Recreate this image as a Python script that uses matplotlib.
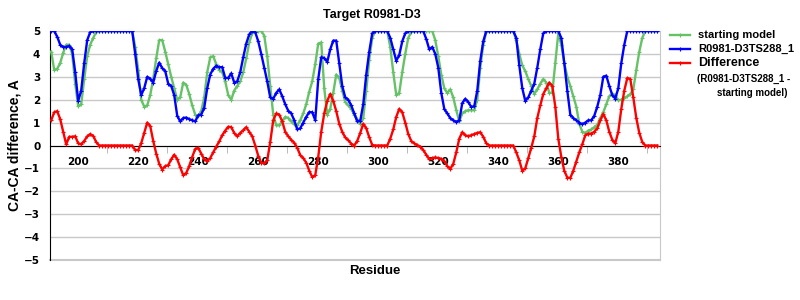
import numpy as np
import matplotlib
matplotlib.use("Agg")
import matplotlib.pyplot as plt
from matplotlib.lines import Line2D

# residues 191..393
residues = list(range(191, 394))

starting_model = [
    4.1, 3.3, 3.35, 3.6, 4.05, 4.4, 4.4, 4.0, 2.7, 1.72,      # 191-200
    1.8, 2.9, 3.9, 4.4, 4.7, 4.95, 5, 5, 5, 5,                # 201-210
    5, 5, 5, 5, 5, 5, 5, 5, 4.3, 3.3,                         # 211-220
    2.0, 1.7, 1.75, 2.2, 2.9, 3.8, 4.6, 4.6, 4.1, 3.55,       # 221-230
    3.0, 2.5, 2.0, 2.1, 2.75, 2.65, 2.25, 1.75, 1.35, 1.28,   # 231-240
    1.5, 2.1, 3.2, 3.85, 3.9, 3.55, 3.3, 3.2, 2.8, 2.2,       # 241-250
    2.0, 2.4, 2.6, 2.8, 3.2, 3.8, 4.5, 4.9, 4.95, 5,          # 251-260
    5, 4.8, 3.9, 2.6, 1.35, 0.88, 0.88, 1.05, 1.25, 1.2,      # 261-270
    1.05, 0.92, 0.88, 1.1, 1.4, 1.8, 2.35, 2.8, 3.55, 4.45,   # 271-280
    4.5, 2.5, 1.35, 1.6, 2.3, 3.1, 2.95, 2.4, 1.9, 1.75,      # 281-290
    1.6, 1.35, 1.15, 0.95, 1.2, 2.4, 3.75, 4.7, 5, 5,         # 291-300
    5, 5, 5, 4.3, 3.2, 2.2, 2.3, 3.2, 4.0, 4.7,               # 301-310
    4.95, 5, 5, 5, 5, 5, 5, 5, 4.6, 3.9,                      # 311-320
    3.1, 2.5, 2.3, 2.45, 2.1, 1.55, 1.05, 1.4, 1.5, 1.54,     # 321-330
    1.54, 1.54, 2.0, 3.4, 4.4, 4.95, 5, 5, 5, 5,              # 331-340
    5, 5, 5, 5, 5, 4.6, 4.0, 3.5, 3.25, 2.9,                  # 341-350
    2.6, 2.25, 2.45, 2.7, 2.9, 2.75, 2.3, 2.3, 3.6, 4.9,      # 351-360
    4.4, 3.6, 3.0, 2.6, 2.15, 1.7, 0.95, 0.6, 0.55, 0.65,     # 361-370
    0.7, 0.8, 0.9, 1.2, 1.45, 1.8, 2.15, 2.26, 2.2, 1.97,     # 371-380
    2.0, 2.08, 2.15, 2.25, 2.45, 3.3, 4.1, 4.7, 5, 5,         # 381-390
    5, 5, 5,                                                  # 391-393
]

model = [
    5, 5, 4.75, 4.4, 4.3, 4.3, 4.35, 4.2, 3.2, 1.95,          # 191-200
    2.4, 3.6, 4.6, 4.95, 5, 5, 5, 5, 5, 5,                    # 201-210
    5, 5, 5, 5, 5, 5, 5, 5, 4.0, 2.9,                         # 211-220
    2.2, 2.5, 3.0, 2.92, 2.75, 3.25, 3.62, 3.38, 3.25, 2.7,   # 221-230
    2.6, 2.2, 1.3, 1.05, 1.2, 1.22, 1.15, 1.1, 1.05, 1.32,    # 231-240
    1.35, 1.65, 2.5, 3.1, 3.35, 3.48, 3.42, 3.42, 2.95, 2.95, # 241-250
    3.15, 2.75, 2.8, 3.2, 3.85, 4.45, 4.85, 5, 4.95, 4.55,    # 251-260
    4.0, 3.4, 2.8, 2.1, 2.04, 2.3, 2.45, 2.15, 1.8, 1.52,     # 261-270
    1.4, 1.1, 0.7, 0.75, 1.0, 1.25, 1.46, 1.45, 1.1, 2.9,     # 271-280
    3.85, 3.82, 3.65, 4.2, 4.58, 4.58, 3.6, 2.6, 2.1, 2.0,    # 281-290
    1.75, 1.4, 1.05, 1.08, 1.8, 3.1, 4.1, 4.9, 5, 5,          # 291-300
    5, 5, 5, 4.7, 4.2, 3.7, 3.95, 4.55, 4.9, 5,               # 301-310
    5, 5, 5, 5, 5, 4.65, 4.2, 4.3, 4.0, 3.4,                  # 311-320
    2.3, 1.6, 1.4, 1.2, 1.1, 1.03, 1.1, 1.85, 2.04, 1.9,      # 321-330
    1.68, 1.72, 2.4, 3.7, 4.55, 5, 5, 5, 5, 5,                # 331-340
    5, 5, 5, 5, 5, 4.7, 3.5, 2.5, 1.95, 2.1,                  # 341-350
    2.4, 2.7, 3.4, 4.2, 4.9, 5, 5, 5, 5, 5,                   # 351-360
    4.7, 3.6, 2.4, 1.35, 1.2, 1.1, 1.0, 0.93, 1.0, 1.1,       # 361-370
    1.1, 1.3, 1.7, 2.2, 3.0, 3.05, 2.6, 2.2, 2.05, 2.5,       # 371-380
    3.6, 4.4, 5, 5, 5, 5, 5, 5, 5, 5,                         # 381-390
    5, 5, 5,                                                  # 391-393
]

difference = [
    1.1, 1.45, 1.5, 1.15, 0.6, 0.05, 0.38, 0.38, 0.4, 0.1,        # 191-200
    0.05, 0.2, 0.4, 0.5, 0.42, 0.15, 0, 0, 0, 0,                  # 201-210
    0, 0, 0, 0, 0, 0, 0, 0, -0.2, -0.2,                           # 211-220
    0.1, 0.55, 1.0, 0.85, 0.2, -0.35, -0.8, -1.05, -0.9, -0.86,   # 221-230
    -0.6, -0.4, -0.6, -0.95, -1.3, -1.2, -0.9, -0.5, -0.15, -0.1, # 231-240
    -0.35, -0.6, -0.68, -0.55, -0.3, -0.05, 0.18, 0.45, 0.65, 0.82,  # 241-250
    0.8, 0.55, 0.4, 0.55, 0.67, 0.8, 0.6, 0.4, 0.0, -0.45,        # 251-260
    -0.75, -0.78, -0.65, 0.15, 1.1, 1.4, 1.35, 1.05, 0.6, 0.4,    # 261-270
    0.25, 0.12, -0.1, -0.42, -0.55, -0.75, -1.1, -1.38, -1.3, -0.5,  # 271-280
    0.6, 1.4, 1.95, 2.25, 1.95, 1.5, 0.95, 0.6, 0.35, 0.23,       # 281-290
    0.08, 0.0, 0.2, 0.55, 0.95, 0.75, 0.36, 0.02, 0, 0,           # 291-300
    0, 0, 0, 0.3, 0.7, 1.25, 1.6, 1.45, 1.0, 0.5,                 # 301-310
    0.2, 0.09, 0.02, -0.05, -0.2, -0.4, -0.6, -0.55, -0.52, -0.55,  # 311-320
    -0.58, -0.68, -0.9, -1.02, -0.8, -0.3, 0.3, 0.58, 0.45, 0.4,  # 321-330
    0.45, 0.5, 0.55, 0.58, 0.38, 0.1, 0, 0, 0, 0,                 # 331-340
    0, 0, 0, 0, 0, -0.3, -0.65, -1.1, -1.0, -0.55,                # 341-350
    -0.1, 0.4, 1.2, 1.75, 2.25, 2.5, 2.75, 2.6, 1.7, 0.3,         # 351-360
    -0.5, -1.1, -1.4, -1.42, -1.1, -0.7, -0.3, 0.05, 0.45, 0.52,  # 361-370
    0.52, 0.6, 0.75, 1.1, 1.38, 1.1, 0.6, 0.25, 0.1, 0.6,         # 371-380
    1.6, 2.4, 2.95, 2.9, 2.1, 1.2, 0.55, 0.15, 0, 0,              # 381-390
    0, 0, 0,                                                      # 391-393
]

x_labels = list(range(200, 381, 20))

green = '#66c266'
blue = '#0000ff'
red = '#ff0000'

fig = plt.figure(figsize=(8, 3), dpi=100)
ax = fig.add_axes([50/800, 1 - 260/300, 610/800, 229/300])

ax.set_xlim(190.6, 393.9)
ax.set_ylim(-5, 5)
ax.set_yticks(range(-5, 6))
ax.yaxis.grid(True, color='#c8c8c8', linewidth=1)
ax.set_axisbelow(True)

style = dict(linewidth=1.7, marker='+', markersize=3, markeredgewidth=0.8, zorder=3)
ax.plot(residues, starting_model, color=green, **style)
ax.plot(residues, model, color=blue, **style)
ax.plot(residues, difference, color=red, **style)

ax.spines['bottom'].set_position(('data', 0))
ax.spines['bottom'].set_color('black')
ax.spines['bottom'].set_zorder(2.5)
ax.spines['left'].set_color('black')
ax.spines['right'].set_color('#c8c8c8')
ax.spines['top'].set_color('#c8c8c8')
ax.axhline(-5, color='#c8c8c8', linewidth=1.5, zorder=1, clip_on=False)

ax.set_xticks(x_labels)
ax.set_xticks([209.5 + 20*k for k in range(10)], minor=True)
ax.tick_params(axis='x', which='major', length=0, pad=8)
ax.tick_params(axis='x', which='minor', length=5, color='#b0b0b0', direction='out')
ax.tick_params(axis='y', length=0, pad=7)
for lab in ax.get_xticklabels() + ax.get_yticklabels():
    lab.set_fontweight('bold')
    lab.set_fontsize(7.5)
    lab.set_family('DejaVu Sans')
ax.set_yticklabels([str(v).replace('-', '\u2212') for v in range(-5, 6)])

fig.text(372/800, 1 - 15/300, 'Target R0981-D3', ha='center', va='center',
         fontsize=9, fontweight='bold', family='Liberation Sans')
fig.text(375/800, 1 - 271/300, 'Residue', ha='center', va='center',
         fontsize=9.5, fontweight='bold', family='Liberation Sans')
fig.text(15/800, 1 - 145/300, 'CA-CA difference, A', ha='center', va='center',
         rotation=90, fontsize=10, fontweight='bold', family='Liberation Sans')

# legend drawn at the right of the plot
legend_rows = [('starting model', green, 35), ('R0981-D3TS288_1', blue, 49),
               ('Difference', red, 63)]
for label, color, yy in legend_rows:
    yf = 1 - yy/300
    fig.add_artist(Line2D([670/800, 690/800], [yf, yf], color=color, linewidth=1.7,
                          transform=fig.transFigure))
    fig.add_artist(Line2D([680/800], [yf], color=color, marker='+', markersize=3,
                          markeredgewidth=0.8, transform=fig.transFigure))
    size = 9 if label == 'Difference' else 8
    fig.text(698/800, yf, label, ha='left', va='center', fontsize=size,
             fontweight='bold', family='Liberation Sans')
fig.text(697/800, 1 - 79/300, '(R0981-D3TS288_1 -', ha='left', va='center',
         fontsize=7, fontweight='bold', family='Liberation Sans')
fig.text(717/800, 1 - 93/300, 'starting model)', ha='left', va='center',
         fontsize=7, fontweight='bold', family='Liberation Sans')

fig.savefig('out.png', dpi=100)
